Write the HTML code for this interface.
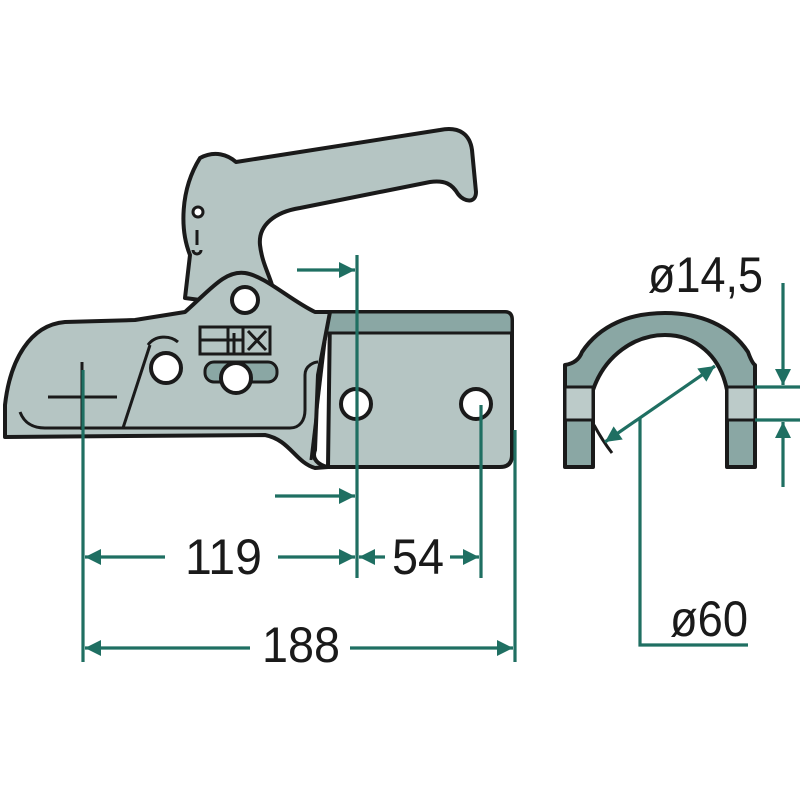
<!DOCTYPE html>
<html><head><meta charset="utf-8"><style>html,body{margin:0;padding:0;background:#fff}svg{display:block}</style></head>
<body>
<svg width="800" height="800" viewBox="0 0 800 800" xmlns="http://www.w3.org/2000/svg">
<defs>
<marker id="a" viewBox="0 0 10 10" refX="10" refY="5" markerWidth="8" markerHeight="5" orient="auto-start-reverse" markerUnits="strokeWidth">
<path d="M0,0 L10,5 L0,10 z" fill="#1f6f62"/></marker>
</defs>
<g stroke="#1a1a1a" stroke-width="4" stroke-linejoin="round" fill="#b5c5c3">
<path d="M200,158 C215,150 228,155 236,162 L440,130 C460,126 470,135 472,150 L476,192 C476,203 465,203 458,194 C452,184 445,180 430,182 L300,208 C275,212 258,225 260,245 C262,262 268,272 272,285 L200,300 L185,298 L190,255 C180,230 180,190 200,158 z"/>
<path d="M330,312 L505,312 Q512,312 512,320 L512,455 Q512,467 500,467 L328,467 z"/>
<path d="M330,312 L505,312 Q512,312 512,320 L512,333 L326,333 z" fill="#8aa7a4" stroke-width="3"/>
<path d="M65,322 L135,320 L185,312 C210,290 225,270 245,273 C265,276 290,300 315,312 L330,312 L326,333 L318,375 L315,450 C310,462 325,467 328,467 L315,468 C295,462 290,440 265,435 L5,437 L5,405 C10,360 30,325 65,322 z"/>
<path d="M20,412 C25,425 35,428 45,428 L290,428 C300,428 305,420 305,410 L305,375 C305,365 315,362 318,362" fill="none" stroke-width="3"/>
<path d="M123,428 L150,345" fill="none" stroke-width="3"/>
<path d="M148,345 C155,335 170,335 178,342" fill="none" stroke-width="3"/>
<path d="M326,333 L311,460" fill="none" stroke-width="3"/>
</g>
<g fill="#fff" stroke="#1a1a1a" stroke-width="4">
<circle cx="245" cy="300" r="13"/>
<circle cx="166" cy="368" r="15"/>
<circle cx="198" cy="212" r="5" stroke-width="3"/>
<rect x="205" y="362" width="72" height="20" rx="9" fill="#8aa7a4" stroke-width="3"/>
<circle cx="236" cy="378" r="15"/>
<circle cx="356" cy="404" r="15"/>
<circle cx="476" cy="404" r="15"/>
<rect x="200" y="327" width="70" height="27" fill="none" stroke-width="3"/>
</g>
<g stroke="#1a1a1a" stroke-width="3" fill="none">
<path d="M200,340 H242 M228,327 V354 M234,333 V354 M248,331 L266,350 M266,331 L248,350 M243,327 V354"/>
<path d="M197,230 V245 M193,250 a4,4 0 1 0 8,0"/>
<path d="M48,397 H117 M82,362 V430"/>
</g>
<g stroke="#1a1a1a" stroke-width="4" stroke-linejoin="round">
<path d="M565,365 Q578,363 582,352 C600,325 630,313 665,313 C700,313 730,325 748,352 Q752,363 755,365 L755,467 L727,467 L727,390 C720,355 695,335 665,335 C635,335 605,355 593,390 L593,467 L565,467 z" fill="#8aa7a4"/>
<rect x="565" y="387" width="28" height="33" fill="#bccbc9" stroke-width="3"/>
<rect x="727" y="387" width="28" height="33" fill="#bccbc9" stroke-width="3"/>
<path d="M594,425 Q602,440 612,453" fill="none" stroke-width="3"/>
</g>
<g stroke="#1f6f62" stroke-width="3.2" fill="none">
<path d="M83,370 V662 M357,255 V578 M481,405 V578 M515,430 V662"/>
<path d="M85,557 H165" marker-start="url(#a)"/>
<path d="M278,557 H355" marker-end="url(#a)"/>
<path d="M385,557 H359" marker-end="url(#a)"/>
<path d="M450,557 H479" marker-end="url(#a)"/>
<path d="M85,648 H250" marker-start="url(#a)"/>
<path d="M350,648 H513" marker-end="url(#a)"/>
<path d="M297,270 H355" marker-end="url(#a)"/>
<path d="M275,496 H355" marker-end="url(#a)"/>
<path d="M755,387 H800 M755,420 H800"/>
<path d="M783,283 V385" marker-end="url(#a)"/>
<path d="M783,487 V422" marker-end="url(#a)"/>
<path d="M605,442 L715,366" marker-start="url(#a)" marker-end="url(#a)"/>
<path d="M640,418 V645 H748"/>
</g>
<g font-family="Liberation Sans, sans-serif" font-size="50" fill="#1a1a1a">
<text x="185" y="574" textLength="77" lengthAdjust="spacingAndGlyphs">119</text>
<text x="392" y="574" textLength="52" lengthAdjust="spacingAndGlyphs">54</text>
<text x="262" y="662" textLength="78" lengthAdjust="spacingAndGlyphs">188</text>
<text x="648" y="292" textLength="115" lengthAdjust="spacingAndGlyphs">ø14,5</text>
<text x="670" y="636" textLength="78" lengthAdjust="spacingAndGlyphs">ø60</text>
</g>
</svg>
</body></html>
